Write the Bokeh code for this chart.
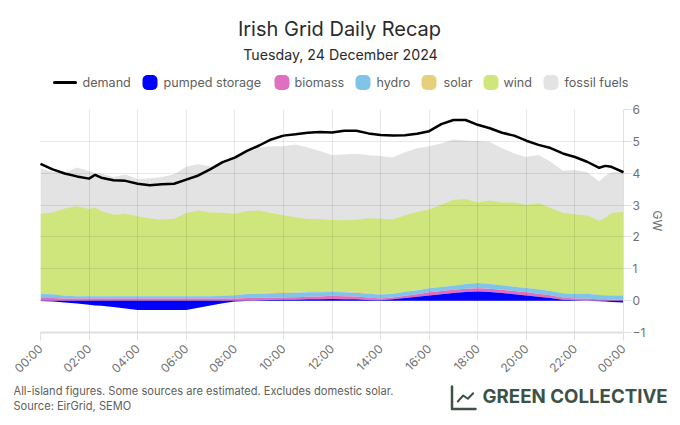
from math import pi
from bokeh.plotting import figure
from bokeh.layouts import column
from bokeh.core.properties import value
from bokeh.models import FixedTicker, Range1d
from bokeh.embed import file_html
from bokeh.resources import INLINE

hours = [0, .5, 1, 1.5, 2, 2.25, 2.5, 3, 3.5, 4, 4.5, 5, 5.5, 6, 6.5, 7, 7.5, 8, 8.5, 9, 9.5, 10, 10.5, 11, 11.5, 12,
         12.5, 13, 13.5, 14, 14.5, 15, 15.5, 16, 16.5, 17, 17.5, 18, 18.5, 19, 19.5, 20, 20.5, 21, 21.5, 22, 22.5,
         23, 23.25, 23.5, 24]
demand = [4.29, 4.12, 3.99, 3.90, 3.83, 3.95, 3.86, 3.78, 3.76, 3.67, 3.62, 3.65, 3.67, 3.80, 3.93, 4.13, 4.35, 4.49,
          4.70, 4.87, 5.06, 5.18, 5.22, 5.27, 5.29, 5.28, 5.33, 5.33, 5.25, 5.20, 5.18, 5.19, 5.24, 5.32, 5.54, 5.67,
          5.67, 5.52, 5.41, 5.27, 5.18, 5.02, 4.89, 4.79, 4.62, 4.51, 4.36, 4.17, 4.23, 4.20, 4.03]
pumped_storage = [-.01, -.03, -.06, -.09, -.13, -.15, -.16, -.20, -.25, -.29, -.29, -.29, -.29, -.29, -.22, -.15, -.08,
                  -.03, -.01, .01, .02, .03, .03, .04, .04, .05, .04, .04, .02, .01, .04, .08, .12, .16, .20, .24, .27,
                  .29, .27, .24, .20, .16, .12, .08, .03, .01, 0, -.02, -.03, -.04, -.06]
biomass_top = [.08, .08, .07, .07, .07, .07, .07, .07, .07, .07, .07, .07, .07, .07, .07, .07, .07, .07, .08, .09, .09,
               .10, .11, .12, .13, .15, .14, .13, .10, .07, .10, .15, .20, .26, .30, .34, .37, .39, .37, .34, .30, .26,
               .22, .17, .10, .07, .06, .04, .04, .03, .03]
hydro_top = [.21, .20, .15, .14, .14, .14, .14, .14, .14, .14, .14, .14, .14, .14, .14, .14, .15, .17, .21, .22, .23,
             .24, .25, .26, .26, .27, .26, .25, .22, .19, .22, .28, .33, .39, .43, .47, .52, .55, .52, .48, .44, .40,
             .36, .30, .23, .21, .22, .18, .17, .16, .16]
solar = [0, 0, 0, 0, 0, 0, 0, 0, 0, 0, 0, 0, 0, 0, 0, 0, 0, 0, .01, .02, .03, .04, .04, .04, .04, .04, .04, .04, .03,
         .02, .01, .01, .01, 0, 0, 0, 0, 0, 0, 0, 0, 0, 0, 0, 0, 0, 0, 0, 0, 0, 0]
wind_top = [2.73, 2.77, 2.89, 2.96, 2.88, 2.92, 2.81, 2.70, 2.73, 2.65, 2.58, 2.55, 2.57, 2.75, 2.83, 2.77, 2.76, 2.73,
            2.81, 2.83, 2.75, 2.68, 2.62, 2.56, 2.56, 2.53, 2.52, 2.54, 2.59, 2.57, 2.55, 2.68, 2.78, 2.86, 3.01, 3.17,
            3.19, 3.08, 3.14, 3.08, 3.08, 3.00, 3.06, 2.91, 2.76, 2.71, 2.67, 2.51, 2.60, 2.75, 2.79]
fossil_top = [4.15, 4.04, 4.01, 4.18, 4.07, 4.01, 3.99, 3.88, 3.96, 3.82, 3.84, 3.88, 3.97, 4.20, 4.29, 4.20, 4.36, 4.51,
              4.66, 4.81, 4.85, 4.85, 4.90, 4.81, 4.70, 4.57, 4.59, 4.61, 4.56, 4.54, 4.49, 4.66, 4.78, 4.85, 4.93, 5.06,
              5.03, 5.01, 4.98, 4.78, 4.62, 4.51, 4.57, 4.36, 4.08, 4.10, 4.03, 3.74, 3.92, 4.03, 4.03]
x_ticks = [0, 2, 4, 6, 8, 10, 12, 14, 16, 18, 20, 22, 24]
x_labels = ["00:00", "02:00", "04:00", "06:00", "08:00", "10:00", "12:00", "14:00", "16:00", "18:00", "20:00", "22:00", "00:00"]
y_ticks = [-1, 0, 1, 2, 3, 4, 5, 6]
legend_names = ["demand", "pumped storage", "biomass", "hydro", "solar", "wind", "fossil fuels"]
colors = ["#000000", "#0000ff", "#df70c0", "#80c4e8", "#e6d07c", "#cfe67c", "#e3e3e3"]
swatch_x = [142, 274, 355, 421, 483, 543]
label_x = [82, 163, 294, 376, 443, 503, 564]

FONT = "Inter"
GREEN = "#3d5245"


def panel(top, bottom):
    f = figure(width=680, height=bottom - top, output_backend="svg", toolbar_location=None,
               x_axis_type=None, y_axis_type=None, x_range=Range1d(0, 680), y_range=Range1d(bottom, top),
               min_border=0, outline_line_color=None, frame_align=False)
    f.grid.visible = False
    return f


def put(f, x, y, s, size, color="#555555", align="left", style="normal"):
    f.text([x], [y], text=[s], text_font=value(FONT), text_font_size=size, text_color=color,
           text_align=align, text_baseline="middle", text_font_style=style)


# header: title, subtitle, legend
head = panel(0, 100)
put(head, 339, 28, "Irish Grid Daily Recap", "20px", "#2b2b2b", "center")
put(head, 340, 54, "Tuesday, 24 December 2024", "14.2px", "#2b2b2b", "center")
head.line([54, 75], [82, 82], line_color=colors[0], line_width=3, line_cap="round")
for i, sx in enumerate(swatch_x):
    head.quad(left=[sx], right=[sx + 15], top=[74.5], bottom=[89.5], fill_color=colors[i + 1], line_color=None,
              border_radius=5)
for name, lx in zip(legend_names, label_x):
    put(head, lx, 82, name, "12.6px", "#606060")

# chart
p = figure(width=680, height=284, output_backend="svg", toolbar_location=None, y_axis_location="right",
           x_range=Range1d(0, 24), y_range=Range1d(-1, 6), frame_align=False,
           min_border_left=40, min_border_right=57, min_border_top=9, min_border_bottom=43)
p.outline_line_color = None

pump_pos = [max(v, 0) for v in pumped_storage]
pump_neg = [min(v, 0) for v in pumped_storage]
zero = [0] * len(hours)
solar_top = [h + s for h, s in zip(hydro_top, solar)]

p.varea(hours, solar_top, fossil_top, fill_color=colors[6])
p.varea(hours, solar_top, wind_top, fill_color=colors[5])
p.varea(hours, hydro_top, solar_top, fill_color=colors[4])
p.varea(hours, biomass_top, hydro_top, fill_color=colors[3])
p.varea(hours, pump_pos, biomass_top, fill_color=colors[2])
p.varea(hours, zero, pump_pos, fill_color=colors[1])
p.varea(hours, pump_neg, zero, fill_color=colors[1])
p.line(hours, demand, line_color=colors[0], line_width=2.5, level="overlay")

p.xaxis.ticker = FixedTicker(ticks=x_ticks)
p.yaxis.ticker = FixedTicker(ticks=y_ticks)
p.xaxis.major_label_overrides = {t: l for t, l in zip(x_ticks, x_labels)}
p.xaxis.major_label_orientation = pi / 4
for ax in (p.xaxis, p.yaxis):
    ax.major_label_text_font = FONT
    ax.major_label_text_font_size = "12px"
    ax.major_label_text_color = "#707070"
    ax.minor_tick_line_color = None
    ax.major_tick_in = 0
    ax.major_tick_out = 8
    ax.major_tick_line_color = "#e0e0e0"
    ax.axis_line_color = "#e0e0e0"
p.xaxis.axis_line_width = 2
p.xaxis.major_label_standoff = 6
p.yaxis.major_label_standoff = 1
p.yaxis.axis_label = "GW"
p.yaxis.axis_label_text_font = FONT
p.yaxis.axis_label_text_font_size = "12px"
p.yaxis.axis_label_text_font_style = "normal"
p.yaxis.axis_label_text_color = "#707070"
p.yaxis.axis_label_standoff = 2
p.xgrid.ticker = FixedTicker(ticks=x_ticks)
p.ygrid.ticker = FixedTicker(ticks=y_ticks)
p.grid.grid_line_color = "#000000"
p.grid.grid_line_alpha = 0.09
p.grid.level = "overlay"

# footer: notes and logo
foot = panel(384, 420)
put(foot, 13, 390.5, "All-island figures. Some sources are estimated. Excludes domestic solar.", "11.1px", "#606060")
put(foot, 13, 405, "Source: EirGrid, SEMO", "11.1px", "#606060")
foot.line([451.5, 451.5, 475], [386, 408.5, 408.5], line_color=GREEN, line_width=2.5, line_cap="round", line_join="round")
foot.line([457.3, 462.7, 467.3, 472.7], [401, 395, 398.3, 392.7], line_color=GREEN, line_width=2, line_cap="round", line_join="round")
put(foot, 482, 396, "GREEN COLLECTIVE", "18.7px", GREEN, style="bold")

open("out.html", "w").write(file_html(column(head, p, foot, spacing=0), INLINE))
